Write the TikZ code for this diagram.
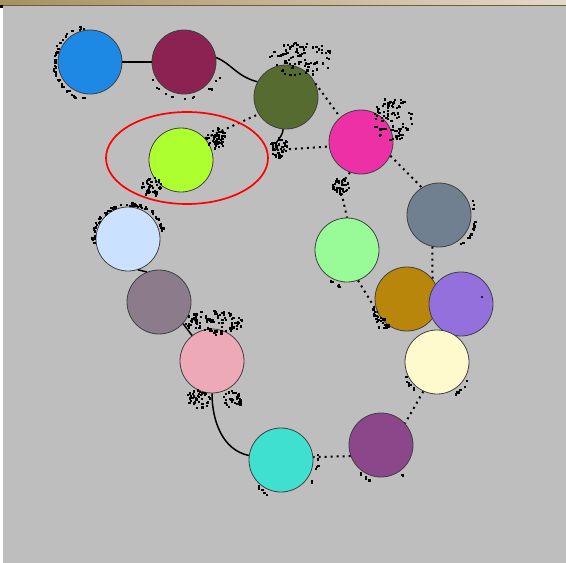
\documentclass[tikz,border=0pt]{standalone}
\usepackage{tikz}
\usetikzlibrary{calc,shapes.geometric}

\definecolor{ballBlue}{RGB}{30,136,229}
\definecolor{ballMaroon}{RGB}{139,34,82}
\definecolor{ballOlive}{RGB}{85,107,47}
\definecolor{ballLime}{RGB}{173,255,47}
\definecolor{ballMagenta}{RGB}{238,48,167}
\definecolor{ballSlate}{RGB}{112,128,144}
\definecolor{ballMint}{RGB}{152,251,152}
\definecolor{ballGold}{RGB}{184,134,11}
\definecolor{ballPurple}{RGB}{147,112,219}
\definecolor{ballSky}{RGB}{202,225,255}
\definecolor{ballMauve}{RGB}{139,123,139}
\definecolor{ballPink}{RGB}{238,169,184}
\definecolor{ballCream}{RGB}{255,250,205}
\definecolor{ballPlum}{RGB}{139,71,137}
\definecolor{ballTeal}{RGB}{64,224,208}
\definecolor{panelGray}{RGB}{190,190,190}
\definecolor{barLeft}{RGB}{168,144,96}
\definecolor{barRight}{RGB}{226,218,202}
\definecolor{barEdge}{RGB}{110,92,62}

\begin{document}
\begin{tikzpicture}[
    x=1pt, y=-1pt,
    ball/.style={circle, draw=black!75, line width=0.8pt, minimum size=64pt, inner sep=0pt},
    wire/.style={line width=1.5pt, black},
    dotwire/.style={line width=2pt, black, dash pattern=on 2pt off 4pt},
    speck/.style={fill=black},
]

% --- Window frame ---
\useasboundingbox (0,0) rectangle (566,563);
\fill[panelGray] (0,0) rectangle (566,563);
\shade[left color=barLeft, right color=barRight] (0,0) rectangle (566,5);
\fill[barEdge] (0,5) rectangle (566,6.3);
\fill[white] (0,6.3) rectangle (3,563);
\fill[black] (0,5) rectangle (2.5,7.5);

% --- Balls ---
\node[ball, fill=ballBlue] (blue) at (90,62) {};
\node[ball, fill=ballMaroon] (maroon) at (184,62) {};
\node[ball, fill=ballOlive] (olive) at (286,97) {};
\node[ball, fill=ballLime] (lime) at (181,160) {};
\node[ball, fill=ballMagenta] (magenta) at (361,142) {};
\node[ball, fill=ballSlate] (slate) at (439,215) {};
\node[ball, fill=ballMint] (mint) at (347,250) {};
\node[ball, fill=ballGold] (gold) at (407,299) {};
\node[ball, fill=ballPurple] (purple) at (461,304) {};
\node[ball, fill=ballCream] (cream) at (437,362) {};
\node[ball, fill=ballPlum] (plum) at (381,445) {};
\node[ball, fill=ballTeal] (teal) at (281,460) {};
\node[ball, fill=ballSky] (sky) at (128,239) {};
\node[ball, fill=ballMauve] (mauve) at (159,302) {};
\node[ball, fill=ballPink] (pink) at (212,361) {};
\fill[black] (482,297) circle (1.2);

% kinks on the links
\coordinate (oliveKink) at (277,150);
\coordinate (magKink) at (340,186);

% --- Links ---
\draw[wire] (blue.east) -- (maroon.west);
\draw[wire] (maroon.8) .. controls (232,64) and (236,76) .. (olive.152);
\draw[dotwire] (olive.25) -- (magenta.130);
\draw[wire] (olive.265) .. controls (282,140) and (272,142) .. (oliveKink);
\draw[dotwire] (oliveKink) -- (magenta.188);
\draw[dotwire] (lime.42) -- (olive.212);
\draw[dotwire] (magenta.250) -- (magKink) -- (mint.north);
\draw[dotwire] (magenta.-25) -- (slate.122);
\draw[dotwire] (slate.258) -- (gold.38);
\draw[dotwire] (mint.290) -- (gold.205);
\draw[dotwire] (cream.245) -- (plum.42);
\draw[dotwire] (plum.200) -- (teal.5);
\draw[wire] (teal.172) .. controls (222,450) and (212,420) .. (pink.south);
\draw[wire] (pink.128) -- (mauve.-42);
\draw[wire] (mauve.112) -- (sky.-72);

% --- Specks (noise around the balls) ---
\pgfmathsetseed{4211}
% arcs hugging a ball: name/from/to/radius/count
\foreach \b/\from/\to/\r/\n in {blue/95/265/35/45, maroon/190/340/35/12, sky/15/185/34/70,
    slate/-70/30/34/16, cream/200/240/34/7, cream/300/330/34/6, plum/230/310/34/7,
    teal/-40/20/34/7, teal/220/250/34/6, mint/235/265/34/6, gold/195/235/34/12} {
  \foreach \i in {1,...,\n} {
    \pgfmathsetmacro\ang{\from+(\to-\from)*rnd}
    \pgfmathsetmacro\rad{\r+3*rnd}
    \fill[speck] ($(\b.center)+(\ang:\rad pt)$) rectangle ++(2.2,2.2);
  }
}
% loose clouds: centre x/centre y/spread x/spread y/count
\foreach \cx/\cy/\sx/\sy/\n in {300/58/32/17/90, 392/118/20/22/80, 215/137/10/11/50,
    151/186/10/10/45, 278/146/9/11/45, 340/186/8/9/45, 212/322/30/12/100,
    198/398/13/9/40, 232/398/10/9/28, 382/323/7/7/18} {
  \foreach \i in {1,...,\n} {
    \pgfmathsetmacro\ang{360*rnd}
    \pgfmathsetmacro\rad{sqrt(rnd)}
    \pgfmathsetmacro\px{\cx+\sx*\rad*cos(\ang)}
    \pgfmathsetmacro\py{\cy+\sy*\rad*sin(\ang)}
    \fill[speck] (\px,\py) rectangle ++(2.2,2.2);
  }
}

% --- Highlight ---
\draw[red, line width=1.7pt] (187,158) ellipse [x radius=81, y radius=46];

\end{tikzpicture}
\end{document}
